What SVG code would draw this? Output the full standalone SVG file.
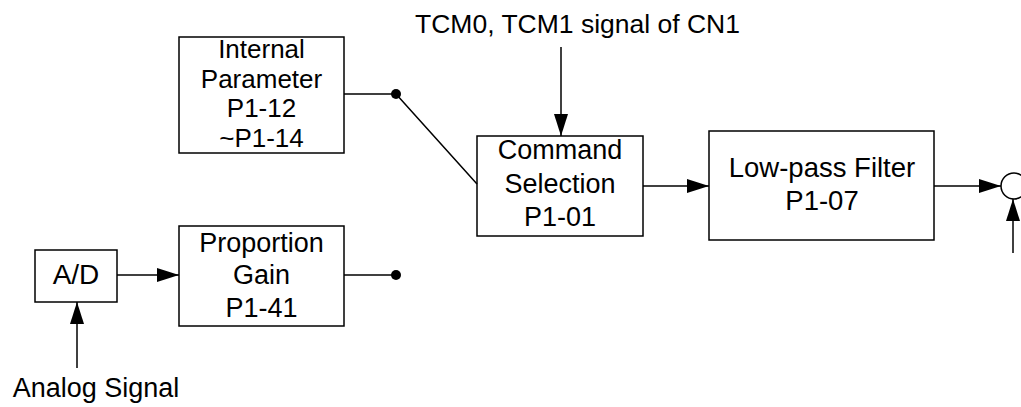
<svg xmlns="http://www.w3.org/2000/svg" width="1021" height="407" viewBox="0 0 1021 407">
<style>
.box{fill:#fff;stroke:#000;stroke-width:1.5}
.t{font-family:"Liberation Sans",Arial,sans-serif;font-size:26px;fill:#000;text-anchor:middle}
.ln{fill:none;stroke:#000;stroke-width:1.5}
.dot{fill:#000}
</style>
<defs>
<marker id="ah" viewBox="0 0 22 14" refX="22" refY="7" markerWidth="22" markerHeight="14" markerUnits="userSpaceOnUse" orient="auto">
<path d="M0,0 L22,7 L0,14 Z" fill="#000"/>
</marker>
</defs>
<rect width="1021" height="407" fill="#fff"/>
<g id="internal">
<rect class="box" x="179" y="37" width="165" height="116"/>
<text class="t" x="261.5" y="58">Internal</text>
<text class="t" x="261.5" y="88">Parameter</text>
<text class="t" x="261.5" y="117">P1-12</text>
<text class="t" x="261.5" y="147">~P1-14</text>
</g>
<g id="command">
<rect class="box" x="477" y="136" width="166" height="100"/>
<text class="t" x="560" y="159" style="font-size:27px">Command</text>
<text class="t" x="560" y="193" style="font-size:27px">Selection</text>
<text class="t" x="560" y="226" style="font-size:27px">P1-01</text>
</g>
<g id="lowpass">
<rect class="box" x="709" y="131" width="225" height="109"/>
<text class="t" x="822" y="177" style="font-size:27.5px">Low-pass Filter</text>
<text class="t" x="822" y="210" style="font-size:27.5px">P1-07</text>
</g>
<g id="ad">
<rect class="box" x="35" y="250" width="82" height="52"/>
<text class="t" x="76" y="284" style="font-size:28px">A/D</text>
</g>
<g id="proportion">
<rect class="box" x="179" y="226" width="165" height="100"/>
<text class="t" x="261.5" y="252" style="font-size:27px">Proportion</text>
<text class="t" x="261.5" y="284" style="font-size:27px">Gain</text>
<text class="t" x="261.5" y="317" style="font-size:27px">P1-41</text>
</g>
<g id="sum">
<circle cx="1014" cy="186" r="13" fill="#fff" stroke="#000" stroke-width="1.5"/>
</g>
<g id="labels">
<text class="t" x="577.5" y="33" style="font-size:26.5px">TCM0, TCM1 signal of CN1</text>
<text class="t" x="96" y="397" style="font-size:27px">Analog Signal</text>
</g>
<g id="connectors">
<polyline class="ln" points="344,94 396,94 477,184"/>
<circle class="dot" cx="396" cy="94" r="5"/>
<line class="ln" x1="344" y1="275" x2="396" y2="275"/>
<circle class="dot" cx="396" cy="275" r="5"/>
<line class="ln" x1="561" y1="47" x2="561" y2="136" marker-end="url(#ah)"/>
<line class="ln" x1="643" y1="186" x2="709" y2="186" marker-end="url(#ah)"/>
<line class="ln" x1="934" y1="186" x2="1001" y2="186" marker-end="url(#ah)"/>
<line class="ln" x1="1013" y1="253" x2="1013" y2="199" marker-end="url(#ah)"/>
<line class="ln" x1="117" y1="275" x2="179" y2="275" marker-end="url(#ah)"/>
<line class="ln" x1="77" y1="368" x2="77" y2="302" marker-end="url(#ah)"/>
</g>
</svg>
